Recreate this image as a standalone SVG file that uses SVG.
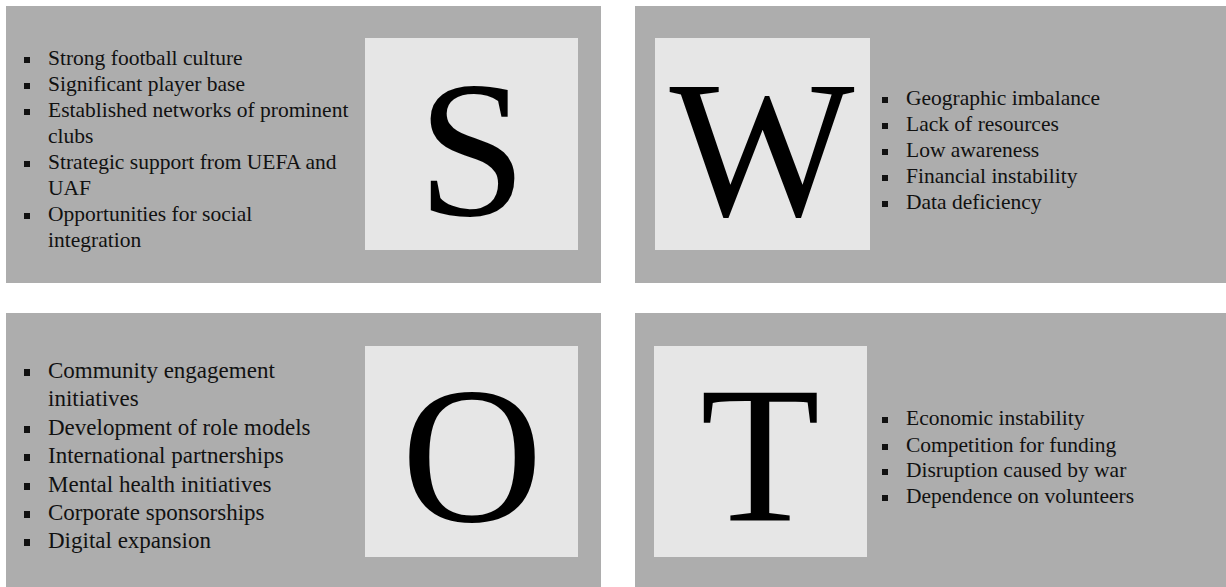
<svg xmlns="http://www.w3.org/2000/svg" width="1226" height="587" viewBox="0 0 1226 587">
<style>
.panel{fill:#adadad}
.box{fill:#e6e6e6}
.big{font-family:"Liberation Serif","Times New Roman",serif;font-size:196px;fill:#000;text-anchor:middle}
.t{font-family:"Liberation Serif","Times New Roman",serif;font-size:21.5px;fill:#111}
.t2{font-family:"Liberation Serif","Times New Roman",serif;font-size:23px;fill:#111}
.b{fill:#111}
</style>
<rect width="1226" height="587" fill="#ffffff"/>
<g id="strengths">
<rect class="panel" x="6" y="6" width="595" height="277"/>
<rect class="box" x="365" y="38" width="213" height="212"/>
<text class="big" x="472" y="215">S</text>
<rect class="b" x="24" y="57" width="6" height="6"/>
<text class="t" x="48" y="65">Strong football culture</text>
<rect class="b" x="24" y="83" width="6" height="6"/>
<text class="t" x="48" y="91">Significant player base</text>
<rect class="b" x="24" y="109" width="6" height="6"/>
<text class="t" x="48" y="117">Established networks of prominent</text>
<text class="t" x="48" y="143">clubs</text>
<rect class="b" x="24" y="161" width="6" height="6"/>
<text class="t" x="48" y="169">Strategic support from UEFA and</text>
<text class="t" x="48" y="195">UAF</text>
<rect class="b" x="24" y="213" width="6" height="6"/>
<text class="t" x="48" y="221">Opportunities for social</text>
<text class="t" x="48" y="247">integration</text>
</g>
<g id="weaknesses">
<rect class="panel" x="635" y="6" width="591" height="277"/>
<rect class="box" x="655" y="38" width="215" height="212"/>
<text class="big" x="762" y="215">W</text>
<rect class="b" x="882" y="97" width="6" height="6"/>
<text class="t" x="906" y="105">Geographic imbalance</text>
<rect class="b" x="882" y="123" width="6" height="6"/>
<text class="t" x="906" y="131">Lack of resources</text>
<rect class="b" x="882" y="149" width="6" height="6"/>
<text class="t" x="906" y="157">Low awareness</text>
<rect class="b" x="882" y="175" width="6" height="6"/>
<text class="t" x="906" y="183">Financial instability</text>
<rect class="b" x="882" y="201" width="6" height="6"/>
<text class="t" x="906" y="209">Data deficiency</text>
</g>
<g id="opportunities">
<rect class="panel" x="6" y="313" width="595" height="274"/>
<rect class="box" x="365" y="346" width="213" height="211"/>
<text class="big" x="472" y="521">O</text>
<rect class="b" x="24" y="369" width="6" height="7"/>
<text class="t2" x="48" y="378">Community engagement</text>
<text class="t2" x="48" y="406">initiatives</text>
<rect class="b" x="24" y="426" width="6" height="7"/>
<text class="t2" x="48" y="435">Development of role models</text>
<rect class="b" x="24" y="454" width="6" height="7"/>
<text class="t2" x="48" y="463">International partnerships</text>
<rect class="b" x="24" y="483" width="6" height="7"/>
<text class="t2" x="48" y="492">Mental health initiatives</text>
<rect class="b" x="24" y="511" width="6" height="7"/>
<text class="t2" x="48" y="520">Corporate sponsorships</text>
<rect class="b" x="24" y="539" width="6" height="7"/>
<text class="t2" x="48" y="548">Digital expansion</text>
</g>
<g id="threats">
<rect class="panel" x="635" y="313" width="591" height="274"/>
<rect class="box" x="654" y="346" width="213" height="211"/>
<text class="big" x="760" y="521">T</text>
<rect class="b" x="882" y="417" width="6" height="6"/>
<text class="t" x="906" y="425">Economic instability</text>
<rect class="b" x="882" y="444" width="6" height="6"/>
<text class="t" x="906" y="452">Competition for funding</text>
<rect class="b" x="882" y="469" width="6" height="6"/>
<text class="t" x="906" y="477">Disruption caused by war</text>
<rect class="b" x="882" y="495" width="6" height="6"/>
<text class="t" x="906" y="503">Dependence on volunteers</text>
</g>
<g id="connectors"/>
</svg>
